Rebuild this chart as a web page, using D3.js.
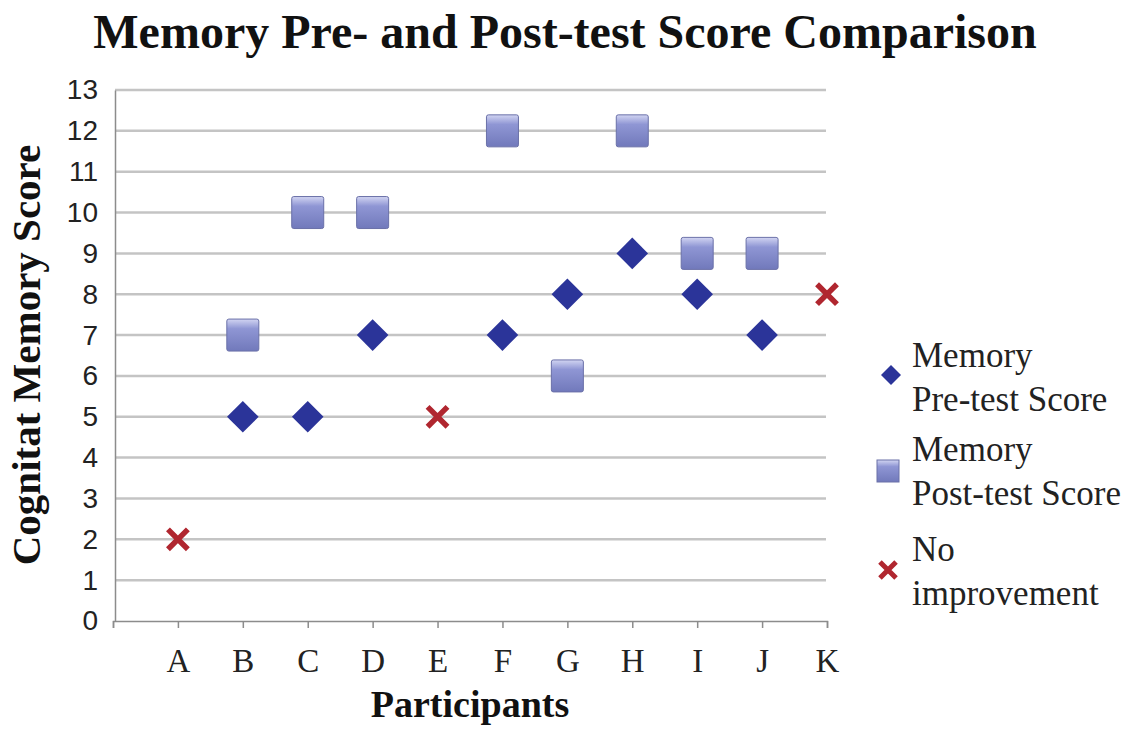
<!DOCTYPE html>
<html>
<head>
<meta charset="utf-8">
<title>Memory Pre- and Post-test Score Comparison</title>
<script src="https://cdn.jsdelivr.net/npm/d3@7"></script>
<style>
  body { margin: 0; background: #fff; }
  svg { display: block; }
</style>
</head>
<body>
<div id="container"></div>
<script>
// participants and scores
var participants = ["A","B","C","D","E","F","G","H","I","J","K"];
var preScores  = [null, 5, 5, 7, null, 7, 8, 9, 8, 7, null];
var postScores = [null, 7, 10, 10, null, 12, 6, 12, 9, 9, null];
var noImprove  = [2, null, null, null, 5, null, null, null, null, null, 8];
var yTicks = d3.range(0, 14);

var W = 1130, H = 730;
var plot = {left: 115, right: 827, top: 90, bottom: 621};
var serif = "Liberation Serif, Times New Roman, serif";

var svg = d3.select("#container").append("svg")
  .attr("width", W).attr("height", H);

var defs = svg.append("defs");
var grad = defs.append("linearGradient").attr("id", "sq").attr("x1", 0).attr("y1", 0).attr("x2", 0).attr("y2", 1);
grad.append("stop").attr("offset", "0%").attr("stop-color", "#d2d5f2");
grad.append("stop").attr("offset", "30%").attr("stop-color", "#8f96d4");
grad.append("stop").attr("offset", "100%").attr("stop-color", "#7179bb");

var x = d3.scaleLinear().domain([0, 11]).range([plot.left - 2, plot.right]);
var y = d3.scaleLinear().domain([0, 13]).range([plot.bottom, plot.top]);

// gridlines
svg.append("g").selectAll("line")
  .data(yTicks.filter(function(d){ return d > 0; }))
  .enter().append("line")
  .attr("x1", plot.left).attr("x2", plot.right - 1)
  .attr("y1", function(d){ return y(d); }).attr("y2", function(d){ return y(d); })
  .attr("stroke", "#c4c4c4").attr("stroke-width", 2.5);

// y axis
var yAxis = svg.append("g").attr("transform", "translate(" + plot.left + ",0)")
  .call(d3.axisLeft(y).tickValues(yTicks).tickSize(0).tickPadding(17));
yAxis.select(".domain").attr("stroke", "#8c8c8c").attr("stroke-width", 1.5);
yAxis.selectAll("text").attr("font-family", "Liberation Sans, Arial, sans-serif")
  .attr("font-size", 28).attr("fill", "#222");

// x axis
var xAxis = svg.append("g").attr("transform", "translate(0," + plot.bottom + ")")
  .call(d3.axisBottom(x).tickValues(d3.range(0, 12)).tickSize(7)
    .tickFormat(function(d){ return d === 0 ? "" : participants[d - 1]; }));
xAxis.select(".domain").attr("stroke", "#8c8c8c").attr("stroke-width", 1.5);
xAxis.selectAll(".tick line").attr("stroke", "#8c8c8c").attr("stroke-width", 1.5);
xAxis.selectAll("text").attr("font-family", serif)
  .attr("font-size", 33).attr("fill", "#222").attr("y", 51).attr("dy", 0);

// markers
function pts(arr) {
  return arr.map(function(v, i){ return {i: i + 1, v: v}; }).filter(function(d){ return d.v !== null; });
}

svg.append("g").selectAll("rect")
  .data(pts(postScores))
  .enter().append("rect")
  .attr("x", function(d){ return x(d.i) - 16; })
  .attr("y", function(d){ return y(d.v) - 16; })
  .attr("width", 32).attr("height", 32).attr("rx", 2)
  .attr("fill", "url(#sq)").attr("stroke", "#6a70a8").attr("stroke-width", 1);

var diamond = d3.symbol().type(d3.symbolSquare).size(500);
svg.append("g").selectAll("path")
  .data(pts(preScores))
  .enter().append("path")
  .attr("d", diamond)
  .attr("transform", function(d){ return "translate(" + x(d.i) + "," + y(d.v) + ") rotate(45)"; })
  .attr("fill", "#2b3499");

var cross = d3.symbol().type(d3.symbolX).size(260);
svg.append("g").selectAll("path")
  .data(pts(noImprove))
  .enter().append("path")
  .attr("d", cross)
  .attr("transform", function(d){ return "translate(" + x(d.i) + "," + y(d.v) + ")"; })
  .attr("fill", "none").attr("stroke", "#b0262f").attr("stroke-width", 5.5);

// titles
svg.append("text").attr("x", 565).attr("y", 48).attr("text-anchor", "middle")
  .attr("font-family", serif).attr("font-weight", "bold")
  .attr("font-size", 48).attr("fill", "#111")
  .text("Memory Pre- and Post-test Score Comparison");

svg.append("text").attr("x", 470).attr("y", 717).attr("text-anchor", "middle")
  .attr("font-family", serif).attr("font-weight", "bold")
  .attr("font-size", 38).attr("fill", "#111")
  .text("Participants");

svg.append("text").attr("transform", "translate(40,355) rotate(-90)").attr("text-anchor", "middle")
  .attr("font-family", serif).attr("font-weight", "bold")
  .attr("font-size", 41).attr("fill", "#111")
  .text("Cognitat Memory Score");

// legend
var legendItems = [
  {type: "pre", lines: ["Memory", "Pre-test Score"], y: 378},
  {type: "post", lines: ["Memory", "Post-test Score"], y: 472},
  {type: "none", lines: ["No", "improvement"], y: 572}
];
var lg = svg.append("g");
legendItems.forEach(function(it){
  if (it.type === "pre") {
    lg.append("path").attr("d", d3.symbol().type(d3.symbolSquare).size(200))
      .attr("transform", "translate(891," + (it.y - 3) + ") rotate(45)").attr("fill", "#2b3499");
  } else if (it.type === "post") {
    lg.append("rect").attr("x", 877).attr("y", it.y - 12).attr("width", 22).attr("height", 22)
      .attr("fill", "url(#sq)").attr("stroke", "#6a70a8");
  } else {
    lg.append("path").attr("d", d3.symbol().type(d3.symbolX).size(170))
      .attr("transform", "translate(888," + (it.y - 2) + ")")
      .attr("fill", "none").attr("stroke", "#b0262f").attr("stroke-width", 5);
  }
  lg.append("text").attr("x", 912).attr("y", it.y - 11)
    .attr("font-family", serif).attr("font-size", 35).attr("fill", "#222")
    .text(it.lines[0]);
  lg.append("text").attr("x", 912).attr("y", it.y + 33)
    .attr("font-family", serif).attr("font-size", 35).attr("fill", "#222")
    .text(it.lines[1]);
});
</script>
</body>
</html>
